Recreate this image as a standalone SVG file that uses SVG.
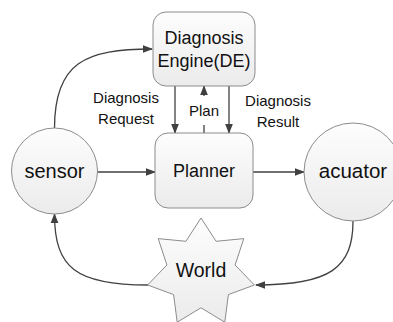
<svg xmlns="http://www.w3.org/2000/svg" width="393" height="322" viewBox="0 0 393 322">
  <defs>
    <linearGradient id="nodeFill" x1="0" y1="0" x2="0" y2="1">
      <stop offset="0" stop-color="#fdfdfd"/>
      <stop offset="1" stop-color="#ebebeb"/>
    </linearGradient>
    <marker id="arrow" viewBox="0 0 10 10" refX="9" refY="5" markerWidth="10" markerHeight="10" markerUnits="userSpaceOnUse" orient="auto">
      <path d="M0,1.2 L10,5 L0,8.8 z" fill="#404040"/>
    </marker>
  </defs>
  <style>
    .node { fill: url(#nodeFill); stroke: #8c8c8c; stroke-width: 1; }
    .edge { fill: none; stroke: #404040; stroke-width: 1.3; }
    .title { font-family: "Liberation Sans", Arial, sans-serif; fill: #111111; text-anchor: middle; }
    .label { font-family: "Liberation Sans", Arial, sans-serif; font-size: 15px; fill: #111111; text-anchor: middle; }
  </style>
  <rect width="393" height="322" fill="#ffffff"/>

  <g id="connectors">
    <!-- sensor to Diagnosis Engine -->
    <path class="edge" d="M54.5,128 C54.5,62 86,49 152,49" marker-end="url(#arrow)"/>
    <!-- Diagnosis Request / Result -->
    <path class="edge" d="M175,86 L175,133" marker-end="url(#arrow)"/>
    <path class="edge" d="M229,86 L229,133" marker-end="url(#arrow)"/>
    <!-- Plan -->
    <path class="edge" d="M204,133 L204,125"/>
    <path class="edge" d="M204,96 L204,86" marker-end="url(#arrow)"/>
    <!-- sensor to Planner -->
    <path class="edge" d="M97,172 L155,172" marker-end="url(#arrow)"/>
    <!-- Planner to acuator -->
    <path class="edge" d="M253,172 L304,172" marker-end="url(#arrow)"/>
    <!-- acuator to World -->
    <path class="edge" d="M353,221 C353,268 330,285 256,285" marker-end="url(#arrow)"/>
    <!-- World to sensor -->
    <path class="edge" d="M148,285 C76,285 54.5,268 54.5,214" marker-end="url(#arrow)"/>
  </g>

  <g id="labels">
    <text class="label" x="126" y="103">Diagnosis</text>
    <text class="label" x="126" y="124">Request</text>
    <text class="label" x="204" y="116">Plan</text>
    <text class="label" x="278" y="106">Diagnosis</text>
    <text class="label" x="278" y="127">Result</text>
  </g>

  <g id="diagnosis-engine">
    <rect class="node" x="153" y="12" width="102" height="74" rx="13"/>
    <text class="title" x="204" y="44" font-size="18">Diagnosis</text>
    <text class="title" x="204" y="67" font-size="18">Engine(DE)</text>
  </g>

  <g id="planner">
    <rect class="node" x="155" y="133" width="98" height="75" rx="13"/>
    <text class="title" x="204" y="177" font-size="18">Planner</text>
  </g>

  <g id="sensor">
    <circle class="node" cx="54.5" cy="171" r="43"/>
    <text class="title" x="54.5" y="178" font-size="20">sensor</text>
  </g>

  <g id="acuator">
    <circle class="node" cx="353" cy="172" r="49"/>
    <text class="title" x="353" y="178" font-size="20.5">acuator</text>
  </g>

  <g id="world">
    <polygon class="node" points="201,218 216.1,241.3 243.8,238.6 235.1,265.0 254.4,285.0 228.4,294.6 224.8,322.2 201,307.8 177.2,322.2 173.6,294.6 147.6,285.0 166.9,265.0 158.2,238.6 185.9,241.3"/>
    <text class="title" x="201" y="277" font-size="19.5">World</text>
  </g>
</svg>
